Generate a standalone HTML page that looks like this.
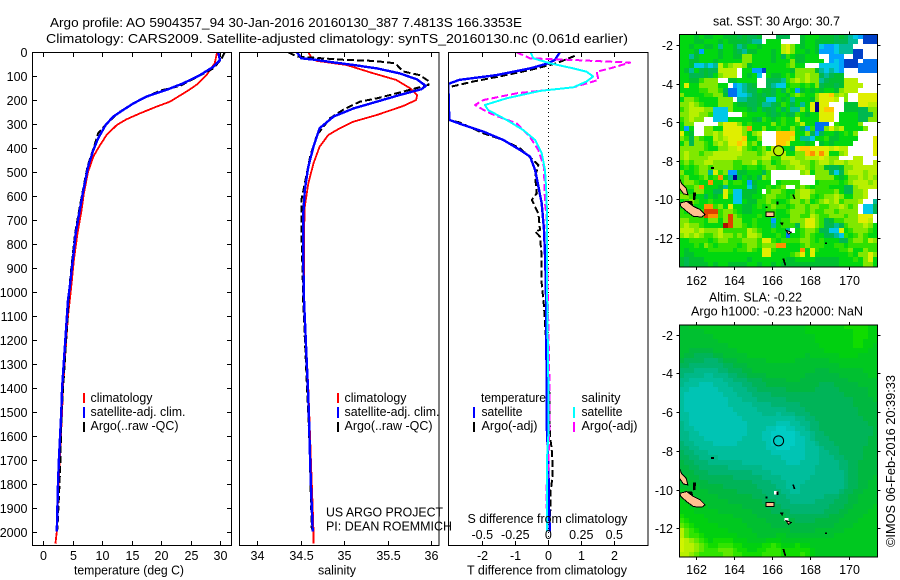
<!DOCTYPE html>
<html lang="en">
<head>
<meta charset="utf-8">
<title>Argo profile 5904357_94</title>
<style>
html,body{margin:0;padding:0;background:#fff;}
svg{display:block;font-family:"Liberation Sans",sans-serif;font-size:12.5px;fill:#000;}
</style>
</head>
<body>
<svg id="chart" xmlns="http://www.w3.org/2000/svg" width="900" height="580" viewBox="0 0 900 580">
<defs>
<clipPath id="clip-temp"><rect x="32" y="52" width="199" height="493"/></clipPath>
<clipPath id="clip-sal"><rect x="239.5" y="52" width="199.5" height="493"/></clipPath>
<clipPath id="clip-diff"><rect x="448.5" y="52" width="199.5" height="493"/></clipPath>
<clipPath id="clip-map1"><rect x="679.5" y="34.5" width="198" height="232.5"/></clipPath>
<clipPath id="clip-map2"><rect x="679.5" y="325" width="198" height="232"/></clipPath>
</defs>
<rect x="0" y="0" width="900" height="580" fill="#fff"/>
<text x="50" y="27" font-size="13" textLength="472" lengthAdjust="spacingAndGlyphs">Argo profile: AO 5904357_94 30-Jan-2016 20160130_387 7.4813S 166.3353E</text>
<text x="46" y="43" font-size="13" textLength="582" lengthAdjust="spacingAndGlyphs">Climatology: CARS2009. Satellite-adjusted climatology: synTS_20160130.nc (0.061d earlier)</text>

<g id="panels"></g>
<g id="maps"></g>

<g>
<rect x="83" y="393" width="2" height="10" fill="#f00"/>
<text x="90.5" y="402" textLength="62" lengthAdjust="spacingAndGlyphs">climatology</text>
<rect x="83" y="407" width="2" height="11" fill="#00f"/>
<text x="90.5" y="416" textLength="95" lengthAdjust="spacingAndGlyphs">satellite-adj. clim.</text>
<rect x="83" y="422" width="2" height="10" fill="#000"/>
<text x="90.5" y="430" textLength="88" lengthAdjust="spacingAndGlyphs">Argo(..raw -QC)</text>
</g>
<g>
<rect x="337" y="393" width="2" height="10" fill="#f00"/>
<text x="344.5" y="402" textLength="62" lengthAdjust="spacingAndGlyphs">climatology</text>
<rect x="337" y="407" width="2" height="11" fill="#00f"/>
<text x="344.5" y="416" textLength="95" lengthAdjust="spacingAndGlyphs">satellite-adj. clim.</text>
<rect x="337" y="422" width="2" height="10" fill="#000"/>
<text x="344.5" y="430" textLength="88" lengthAdjust="spacingAndGlyphs">Argo(..raw -QC)</text>
<text x="326" y="516.5" textLength="117" lengthAdjust="spacingAndGlyphs">US ARGO PROJECT</text>
<text x="326" y="530.5" textLength="126" lengthAdjust="spacingAndGlyphs">PI: DEAN ROEMMICH</text>
</g>
<g>
<text x="481" y="402" textLength="65" lengthAdjust="spacingAndGlyphs">temperature</text>
<text x="581.5" y="402" textLength="39" lengthAdjust="spacingAndGlyphs">salinity</text>
<rect x="473" y="407" width="2" height="11" fill="#00f"/>
<text x="481.5" y="416" textLength="41" lengthAdjust="spacingAndGlyphs">satellite</text>
<rect x="473" y="422" width="2" height="10" fill="#000"/>
<text x="481.5" y="430" textLength="56" lengthAdjust="spacingAndGlyphs">Argo(-adj)</text>
<rect x="573" y="407" width="2" height="11" fill="#0ff"/>
<text x="581.5" y="416" textLength="41" lengthAdjust="spacingAndGlyphs">satellite</text>
<rect x="573" y="422" width="2" height="10" fill="#f0f"/>
<text x="581.5" y="430" textLength="56" lengthAdjust="spacingAndGlyphs">Argo(-adj)</text>
<text x="467.5" y="523" textLength="160" lengthAdjust="spacingAndGlyphs">S difference from climatology</text>
</g>
<text x="74" y="574.5" textLength="110" lengthAdjust="spacingAndGlyphs">temperature (deg C)</text>
<text x="318" y="574.5" textLength="38" lengthAdjust="spacingAndGlyphs">salinity</text>
<text x="467" y="574.5" textLength="160" lengthAdjust="spacingAndGlyphs">T difference from climatology</text>
<text x="713" y="25.5" textLength="127" lengthAdjust="spacingAndGlyphs">sat. SST: 30 Argo: 30.7</text>
<text x="709" y="301.5" textLength="93" lengthAdjust="spacingAndGlyphs">Altim. SLA: -0.22</text>
<text x="691" y="315.5" textLength="172" lengthAdjust="spacingAndGlyphs">Argo h1000: -0.23 h2000: NaN</text>
<text transform="translate(895,547) rotate(-90)" textLength="172" lengthAdjust="spacingAndGlyphs">©IMOS 06-Feb-2016 20:39:33</text>
</svg>

<script>
// ---- axis tick labels ----
const depthTicks = [0,100,200,300,400,500,600,700,800,900,1000,1100,1200,1300,1400,1500,1600,1700,1800,1900,2000];
const tempTicks = [0,5,10,15,20,25,30];
const salTicks = [34,34.5,35,35.5,36];
const tDiffTicks = [-2,-1,0,1,2];
const sDiffTicks = [-0.5,-0.25,0,0.25,0.5];
const sDiffTickLabels = ['-0.5','-0.25','0','0.25','0.5'];
const lonTicks = [162,164,166,168,170];
const latTicks = [-2,-4,-6,-8,-10,-12];

// ---- temperature profiles ----
const tempClimDepth = [0,46,95,136,164,206,227,255,280,303,345,400,435,498,588,658,755,866,964,1033,1100,1200,1400,1500,1800,2000,2050];
const tempClimValue = [29.5,29.1,27.7,26,24.3,21.5,19.2,16.4,14.1,12.5,10.75,9.3,8.5,7.6,6.9,6.5,5.8,5.2,4.8,4.5,4.2,3.9,3.35,3.2,2.6,2.3,2.05];
const tempSatDepth = [0,32,60,95,129,157,185,213,240,268,303,359,407,477,574,672,755,866,978,1033,1400,1500,1600,1700,1800,1900,2000];
const tempSatValue = [29.7,30,28.9,26.6,23.8,20.9,17.5,15.3,13.6,11.9,10.6,9.3,8.5,7.6,6.8,6.1,5.5,5,4.5,4.2,3.2,3.05,2.85,2.65,2.5,2.4,2.3];
const tempArgoDepth = [0,25,67,140,160,206,248,296,338,380,477,644,755,936,1000,1500,1700,1800,1990];
const tempArgoValue = [30.8,30.3,28.9,23.2,19.8,15.8,13,10.8,9.3,8.8,7.5,6.2,5.4,4.6,4.4,3.1,2.9,2.75,2.4];

// ---- salinity profiles ----
const salClimDepth = [0,25,36,53,88,115,150,178,199,224,261,289,317,345,394,463,547,644,755,894,1033,1400,1500,1700,1900,2000,2050];
const salClimValue = [34.59,34.63,34.69,35.03,35.34,35.6,35.76,35.84,35.83,35.68,35.38,35.11,34.95,34.82,34.72,34.65,34.59,34.55,34.54,34.54,34.54,34.59,34.6,34.62,34.64,34.65,34.65];
const salSatDepth = [0,25,32,42,53,67,88,113,140,154,178,210,234,268,317,394,477,574,686,825,1033,1400,1500,1700,1800,1900,2000];
const salSatValue = [34.46,34.51,34.69,34.88,35.11,35.38,35.64,35.84,35.94,35.89,35.64,35.34,35.11,34.88,34.72,34.65,34.59,34.55,34.53,34.53,34.54,34.585,34.595,34.61,34.62,34.63,34.64];
const salArgoDepth = [0,18,32,36,46,80,95,122,136,164,192,206,240,275,345,435,547,616,755,936,1033,1600,1990];
const salArgoValue = [34.36,34.46,35.03,35.34,35.59,35.68,35.87,35.98,35.97,35.68,35.38,35.18,34.99,34.84,34.69,34.61,34.55,34.51,34.51,34.525,34.53,34.6,34.63];

// ---- difference profiles ----
const tDiffSatDepth = [0,32,46,67,95,115,132,282,303,331,366,407,435,491,560,630,741,880,1020,1367,1548,1700,1900,2000];
const tDiffSatValue = [0.35,0.2,0,-0.55,-1.57,-2.7,-3.03,-3,-2.58,-1.97,-1.36,-0.86,-0.55,-0.4,-0.3,-0.2,-0.13,-0.09,-0.07,-0.05,-0.05,0,0.02,0.05];
const tDiffArgoDepth = [15,46,74,100,122,146,282,293,338,366,400,470,519,588,616,672,741,748,769,853,964,1061,1420,1600,1650,1720,1770,1830,1880,1950];
const tDiffArgoValue = [0.8,0.25,-0.55,-1.46,-2.27,-3.03,-3.03,-2.68,-1.97,-1.36,-0.86,-0.3,-0.4,-0.35,-0.5,-0.3,-0.25,-0.4,-0.25,-0.2,-0.2,-0.13,0.03,0.05,0.1,0.13,0.13,0.07,0.07,0.05];
const sDiffSatDepth = [0,25,46,67,81,101,122,146,161,192,220,241,282,324,366,421,491,602,741,1020,1367,1600,1680,1900,2000];
const sDiffSatValue = [-0.134,-0.114,0.013,0.19,0.29,0.34,0.29,0.19,-0.063,-0.316,-0.48,-0.455,-0.316,-0.19,-0.1,-0.05,-0.025,-0.013,-0.008,-0.008,0,0,-0.008,-0.008,-0.008];
const sDiffArgoDepth = [0,25,32,43,67,81,115,146,171,199,220,248,266,296,352,407,477,630,686,880,1367,1560,1730,1810,1870,2000];
const sDiffArgoValue = [-0.24,-0.139,0.19,0.62,0.467,0.366,0.38,0.19,-0.24,-0.49,-0.555,-0.467,-0.39,-0.24,-0.14,-0.076,-0.033,-0.025,-0.013,-0.008,0.008,0.008,0,-0.013,-0.013,-0.008];

// ---- SST heatmap, one colour level per cell (. = no data, n = lowest) ----
const sstLevels = [
"7776766776 6656556... 555..67776 66565432000",
"7776677767 6666544.77 7....67766 66555 44.000",
"7767766747 7645776777 7ab9767763 223444.....",
"7776277767 7654667776 7ab9776762 22344400...",
"7746777767 7669977776 758766777. .222..00...",
"7766777677 7779977776 7779667777 .232000.111",
"7763343 4a8 9aa9677777 778977...3 33320001111",
"7647565 5aa aa.7722077 7776999964 3432...1111",
"775556579a aa.7673.76 678799a995 4566.......",
"7766899 9.. 66 77 77..55 5489a9a994 5666aaa....",
"7b77999977 .23456..54 3378878795 6656aaaa...",
"7777889985 1134557665 7587267676 7769aaa....",
"9777788996 1133456565 776898779b bc9a9..bbbb",
"7998777799 9.44556633 7674777 69b bba.9..bbbb",
"99a9877799 9766556445 687574 7bnb b...666bbaa",
"89aaa99333 9777657565 7574497bnb cc..6665599",
"99aa998333 ...8777765 6765876 77b bb.77775559",
"89a99..333 7777765876 7877a7777b bb.77775599",
"799.....9b bb97877779 78778a7711 1.877779...",
"727..99 77b bbb9d77977 8779752 811 9b9a77779..",
"b76..99a9b bbb979a... cccc779525 7767879....",
"9859877a9a bbbc779... cccb744377 8667777...b",
"7959987 9a9 bbcb897... ccb77767.6 767777....b",
"9999987799 aab987897a a775bccbbb babaa.....b",
"9a99899aaa aaa9998 9aa aa7799cdbd b779a.....b",
"9a9999aaaa aa999 99aa8 8aaa99aaab a99...aa...",
"8989 9aa999 9889 9a8997 899aa9989a a9aa9aaa..a",
"7878998999 9887887899 889 9aa9899 65569 9aaaaa",
"97789 94b89 226677758. .....9a799 9535 9aaa9aa",
"8977897 8d7 4n5767598. ........99 99767 99a9a9",
"8998 77d779 788 72 6777. 78888...78 88878 9aaa9a",
"788 9d77764 7777 357787 89..898788 87775 59aaaa",
"87799 775 5b 833666 7.89 98779aa988 88975 599a..",
"9987757 67b 7336677899 8878 9aa878 99a97799a..",
"7898778777 7337668898 7789 989789 a9a8999a..4",
"7887 7dd897 b776678789 8878998998 899a989.335",
"8788 8eee89 9876677788 7789998988 9989999.335",
"88888edd89 e987778778 7779988a98 89998 99bbb.",
"9988879979 e997787772 7889 99bb98 5688999bba.",
"9a99877 77f e998787774 78885 9bb98 55458999a97",
"aaa9a999a8 8888a98778 774.789985 533b7899987",
"9a9a9889a9 9898aa9777 8717789877 55438789877",
"7788887899 888999 8bb8 7888899878 7775589 98a9",
"7778798788 8878998999 dd77789888 77887888888",
"7677778888 8788987bb8 77777d7b87 77788977988",
"7667777777 7777777bb7 77789b7b77 77777879 9b9",
"6566677777 7777677777 7766777766 66677787 9b7",
"6566667677 6666776776 7666666666 66677777997"
];

// ---- SLA heatmap, one colour level per cell ----
const slaLevels = [
"7788888888 8888888888 8888889999 9999aaaaa99",
"7777788888 8888888888 8888889999 999999aaa99",
"7777777888 8888888888 8888888899 999999aaa99",
"7777777788 8888888888 8888888899 999999aa999",
"7777777777 8888888888 8888888889 999999aa998",
"7766666777 7788888888 8888888888 99999999988",
"7665555667 7777888888 8888887888 88899998888",
"6555544456 6677777788 8888777777 78888888888",
"5544444445 5666777777 7777777777 77788888888",
"4443333344 5556677777 7777777766 67777777888",
"4333322333 4455666677 7777776666 66677777788",
"3322222223 3444555666 6677766666 66666777777",
"3222111222 3334455566 6666666665 55666667777",
"2211111122 2333445555 5566666655 55566666677",
"2111111112 2233344445 5555555555 55556666677",
"2111111111 2223334444 4455555555 55555566667",
"2111111111 2222233334 4444455555 55555566666",
"2111111111 1222223333 3344445555 55555556666",
"2211111111 1122222333 2333444555 55555556666",
"2211111111 1112222222 2222334455 55555555666",
"3211111111 1111222222 1112233445 55555555566",
"3221111111 1111222211 0011223445 55555555556",
"3322111111 1111222110 0000122344 55555555556",
"3322211111 1112222110 0000112344 45555555566",
"4332222111 1122222210 0000112234 44555555566",
"4433222222 2222222211 0001112223 44455555666",
"5443332222 2222222221 1111112223 34455555666",
"5544333322 2222222222 2111112223 33445555666",
"6554443333 3332222222 2211122223 33344556666",
"6655444444 3333333222 2222222233 33344556666",
"6665554444 4444433332 2222222233 33334556666",
"7766555555 5444444333 3222222333 33334556667",
"7776665555 5555544443 3322223333 33334556677",
"7777666665 5555554444 3322233333 33334556677",
"8877776666 6655555444 4332233333 33345566777",
"8887777766 6666655544 4433333333 44455667777",
"9888777777 6666666555 4443333344 44555667777",
"9988887777 7776666655 5444444444 45556677778",
"9998888877 7777766665 5554444444 55566777788",
"a999988888 8777776666 6655555555 56667777888",
"ba99998888 8887777766 6666555566 66677778888",
"cba9999988 8888777776 6666666666 66777788888",
"ecba999999 8888877777 7776666677 77778888888",
"ecbba99999 9988887777 8877777777 77888888888",
"fedcba9aaa a999888899 9888888888 88888888888",
"feedcbaabb baa9999aab a999a99888 88888888888",
"feedcbbbcc cbaa99aabb baaaaaa988 88888888888",
"eedcbbbbbc cbbaaaabbb baaaaba988 88888888888"
];

// ---- float position and coastline (lon, lat pairs) ----
const floatLon = 166.3353;
const floatLat = -7.4813;
const sstFloatLevel = 'a';
const coastPeach = [
  [161.15,-8.9, 161.27,-9.19, 161.5,-9.41, 161.59,-9.76, 161.36,-9.71, 161.15,-9.41],
  [161.18,-10.19, 161.53,-10.1, 161.88,-10.36, 162.23,-10.53, 162.49,-10.79, 162.32,-10.91, 161.88,-10.88, 161.53,-10.62, 161.22,-10.36],
  [165.68,-10.66, 166.1,-10.66, 166.1,-10.88, 165.68,-10.88],
  [166.72,-11.6, 167.0,-11.7, 166.85,-11.8]
];
const coastBlack = [
  [161.88,-9.64, 162.0,-9.64, 161.98,-10.0, 161.88,-10.02],
  [161.6,-10.1, 161.8,-10.1, 161.85,-10.3, 161.65,-10.25],
  [162.82,-8.32, 162.95,-8.32, 162.95,-8.4, 162.82,-8.4],
  [165.65,-10.38, 165.75,-10.38, 165.75,-10.44, 165.65,-10.44],
  [166.24,-10.12, 166.32,-10.12, 166.32,-10.26, 166.24,-10.26],
  [166.42,-11.2, 166.58,-11.2, 166.52,-11.34],
  [166.55,-13.08, 166.62,-13.08, 166.72,-13.42, 166.66,-13.42],
  [167.07,-9.76, 167.13,-9.76, 167.2,-9.96, 167.14,-9.96],
  [168.76,-12.24, 168.86,-12.24, 168.86,-12.29, 168.76,-12.29]
];
const coastWhite = [
  [166.1,-10.08, 166.28,-10.08, 166.28,-10.26, 166.1,-10.26],
  [166.65,-11.46, 166.85,-11.46, 166.85,-11.62, 166.65,-11.62]
];

// ---- colour tables ----
const sstPalette = {'.':'#ffffff',n:'#000090','0':'#0040c8','1':'#0070f0','2':'#00a0ff','3':'#00c8e8','4':'#00bb98','5':'#00b850','6':'#00c030','7':'#00d810','8':'#30e000','9':'#80e800',a:'#b8f000',b:'#e0ee00',c:'#ffc800',d:'#ff9000',e:'#e04000',f:'#b01000'};
const slaPalette = {'0':'#00ccc4','1':'#00c4b4','2':'#00be9c','3':'#00b888','4':'#00b470','5':'#00b458','6':'#00b840','7':'#00c030','8':'#00c820','9':'#00d010',a:'#10dc00',b:'#30e400',c:'#60e800',d:'#90ec00',e:'#b8f000',f:'#d0f400'};

// ---- axis functions ----
function yDepth(d){return 52.3+d*0.2397;}
function xTemp(t){return 43.3+t*5.89;}
function xSal(s){return 257+(s-34)*87;}
function xTDiff(t){return 548.3+t*33;}
function xSDiff(s){return 548.3+s*132;}
function xLon(l){return 695.7+(l-162)*19.125;}
function yLat1(l){return 45+(-2-l)*19.3;}
function yLat2(l){return 334.7+(-2-l)*19.36;}

const SVGNS='http://www.w3.org/2000/svg';
const panels=document.getElementById('panels');
const maps=document.getElementById('maps');

function mk(parent,tag,attrs,name,text){
  const el=document.createElementNS(SVGNS,tag);
  for(const k in attrs){el.setAttribute(k,attrs[k]);}
  
  
  if(text!==undefined){el.textContent=text;}
  parent.appendChild(el);
  return el;
}
function axisLine(parent,x1,y1,x2,y2,name){
  return mk(parent,'line',{x1:x1,y1:y1,x2:x2,y2:y2,stroke:'#000','stroke-width':1,'shape-rendering':'crispEdges'},name);
}
function profile(parent,depths,values,xf,color,dash,clip,name,width){
  const pts=depths.map((d,i)=>xf(values[i]).toFixed(1)+','+yDepth(d).toFixed(1)).join(' ');
  const attrs={points:pts,fill:'none',stroke:color,'stroke-width':width||2,'shape-rendering':'crispEdges','clip-path':'url(#'+clip+')','stroke-linejoin':'round'};
  if(dash){attrs['stroke-dasharray']=dash;}
  return mk(parent,'polyline',attrs,name);
}
function frame(parent,x,y,w,h,name){
  return mk(parent,'rect',{x:x,y:y,width:w,height:h,fill:'none',stroke:'#000','stroke-width':1,'shape-rendering':'crispEdges'},name);
}

// ---- temperature panel ----
const P_TOP=52.5,P_BOT=545.5;
const tempPanel=mk(panels,'g',{},'temperature-panel');
profile(tempPanel,tempClimDepth,tempClimValue,xTemp,'#f00',null,'clip-temp','temperature-climatology-line',1.8);
profile(tempPanel,tempArgoDepth,tempArgoValue,xTemp,'#000','7 3','clip-temp','temperature-argo-line');
profile(tempPanel,tempSatDepth,tempSatValue,xTemp,'#00f',null,'clip-temp','temperature-satellite-line',2.4);
frame(tempPanel,32.5,P_TOP,199,P_BOT-P_TOP,'temperature-plot-frame');
depthTicks.forEach(d=>{
  const y=Math.round(yDepth(d))+0.5;
  axisLine(tempPanel,32.5,y,37,y,'depth-tick-left');
  axisLine(tempPanel,227,y,231.5,y,'depth-tick-right');
  mk(tempPanel,'text',{x:27.5,y:y+4.5,'text-anchor':'end'},'depth-tick-label',String(d));
});
tempTicks.forEach(t=>{
  const x=Math.round(xTemp(t))+0.5;
  axisLine(tempPanel,x,P_TOP,x,P_TOP+4.5,'temperature-tick-top');
  axisLine(tempPanel,x,P_BOT-4.5,x,P_BOT,'temperature-tick-bottom');
  mk(tempPanel,'text',{x:x,y:560,'text-anchor':'middle'},'temperature-tick-label',String(t));
});

// ---- salinity panel ----
const salPanel=mk(panels,'g',{},'salinity-panel');
profile(salPanel,salClimDepth,salClimValue,xSal,'#f00',null,'clip-sal','salinity-climatology-line',1.8);
profile(salPanel,salArgoDepth,salArgoValue,xSal,'#000','7 3','clip-sal','salinity-argo-line');
profile(salPanel,salSatDepth,salSatValue,xSal,'#00f',null,'clip-sal','salinity-satellite-line',2.4);
frame(salPanel,239.5,P_TOP,199.5,P_BOT-P_TOP,'salinity-plot-frame');
salTicks.forEach(s=>{
  const x=Math.round(xSal(s))+0.5;
  axisLine(salPanel,x,P_TOP,x,P_TOP+4.5,'salinity-tick-top');
  axisLine(salPanel,x,P_BOT-4.5,x,P_BOT,'salinity-tick-bottom');
  mk(salPanel,'text',{x:x,y:560,'text-anchor':'middle'},'salinity-tick-label',String(s));
});

// ---- difference panel ----
const diffPanel=mk(panels,'g',{},'difference-panel');
mk(diffPanel,'line',{x1:548.5,y1:52,x2:548.5,y2:545,stroke:'#000','stroke-width':1,'stroke-dasharray':'1 3','shape-rendering':'crispEdges'},'zero-difference-line');
profile(diffPanel,tDiffArgoDepth,tDiffArgoValue,xTDiff,'#000','7 3','clip-diff','t-difference-argo-line');
profile(diffPanel,tDiffSatDepth,tDiffSatValue,xTDiff,'#00f',null,'clip-diff','t-difference-satellite-line',2.4);
profile(diffPanel,sDiffArgoDepth,sDiffArgoValue,xSDiff,'#f0f','7 3','clip-diff','s-difference-argo-line');
profile(diffPanel,sDiffSatDepth,sDiffSatValue,xSDiff,'#0ff',null,'clip-diff','s-difference-satellite-line');
frame(diffPanel,448.5,P_TOP,199.5,P_BOT-P_TOP,'difference-plot-frame');
tDiffTicks.forEach(t=>{
  const x=Math.round(xTDiff(t))+0.5;
  axisLine(diffPanel,x,P_TOP,x,P_TOP+4.5,'t-difference-tick-top');
  axisLine(diffPanel,x,P_BOT-4.5,x,P_BOT,'t-difference-tick-bottom');
  mk(diffPanel,'text',{x:x,y:560,'text-anchor':'middle'},'t-difference-tick-label',String(t));
});
sDiffTicks.forEach((s,i)=>{
  mk(diffPanel,'text',{x:xSDiff(s),y:539,'text-anchor':'middle'},'s-difference-tick-label',sDiffTickLabels[i]);
});

// ---- maps ----
const LON0=161.15,LON1=171.5,LAT0=-1.45,LAT1=-13.5;
function heatmap(parent,rows,palette,yf,clip,name){
  const g=mk(parent,'g',{'clip-path':'url(#'+clip+')','shape-rendering':'crispEdges'},name);
  const clean=rows.map(r=>r.replace(/ /g,''));
  const nRows=clean.length;
  clean.forEach((row,r)=>{
    const nCols=41;
    const dLon=(LON1-LON0)/nCols, dLat=(LAT0-LAT1)/nRows;
    const y0=Math.round(yf(LAT0-r*dLat)), y1=Math.round(yf(LAT0-(r+1)*dLat));
    for(let c=0;c<row.length;c++){
      const x0=Math.round(xLon(LON0+c*dLon)), x1=Math.round(xLon(LON0+(c+1)*dLon));
      mk(g,'rect',{x:x0,y:y0,width:x1-x0,height:y1-y0,fill:palette[row[c]]||'#ffffff'},'map-cell');
    }
  });
  return g;
}
function coast(parent,yf,clip,whiteToo,name){
  const g=mk(parent,'g',{'clip-path':'url(#'+clip+')','shape-rendering':'crispEdges'},name);
  const toPts=a=>{const out=[];for(let i=0;i<a.length;i+=2){out.push(xLon(a[i]).toFixed(1)+','+yf(a[i+1]).toFixed(1));}return out.join(' ');};
  if(whiteToo){coastWhite.forEach(p=>{mk(g,'polygon',{points:toPts(p),fill:'#fff'},'coast-gap');});}
  coastBlack.forEach(p=>{mk(g,'polygon',{points:toPts(p),fill:'#000',stroke:'#000','stroke-width':0.5},'small-island');});
  coastPeach.forEach(p=>{mk(g,'polygon',{points:toPts(p),fill:'#ffc090',stroke:'#000','stroke-width':1},'island');});
  return g;
}
function mapAxes(parent,left,top,w,h,yf,labelBase,name){
  frame(parent,left,top,w,h,name+'-frame');
  lonTicks.forEach(l=>{
    const x=Math.round(xLon(l))+0.5;
    axisLine(parent,x,top-3,x,top,name+'-lon-tick-top');
    axisLine(parent,x,top+h,x,top+h+3,name+'-lon-tick-bottom');
    mk(parent,'text',{x:x,y:labelBase,'text-anchor':'middle'},name+'-lon-label',String(l));
  });
  latTicks.forEach(l=>{
    const y=Math.round(yf(l))+0.5;
    axisLine(parent,left-3,y,left,y,name+'-lat-tick-left');
    axisLine(parent,left+w,y,left+w+3,y,name+'-lat-tick-right');
    mk(parent,'text',{x:673,y:y+4.5,'text-anchor':'end'},name+'-lat-label',String(l));
  });
}
const sstMap=mk(maps,'g',{},'sst-map');
heatmap(sstMap,sstLevels,sstPalette,yLat1,'clip-map1','sst-heatmap');
coast(sstMap,yLat1,'clip-map1',false,'sst-coastline');
mapAxes(sstMap,679.5,34.5,198,232.5,yLat1,285,'sst-map');
mk(sstMap,'circle',{cx:xLon(floatLon),cy:yLat1(floatLat),r:5,fill:sstPalette[sstFloatLevel],stroke:'#000','stroke-width':1},'sst-float-marker');

const slaMap=mk(maps,'g',{},'sla-map');
heatmap(slaMap,slaLevels,slaPalette,yLat2,'clip-map2','sla-heatmap');
coast(slaMap,yLat2,'clip-map2',true,'sla-coastline');
mapAxes(slaMap,679.5,325,198,232,yLat2,574,'sla-map');
mk(slaMap,'circle',{cx:xLon(floatLon),cy:yLat2(floatLat),r:5,fill:'none',stroke:'#000','stroke-width':1},'sla-float-marker');
</script>
</body>
</html>
